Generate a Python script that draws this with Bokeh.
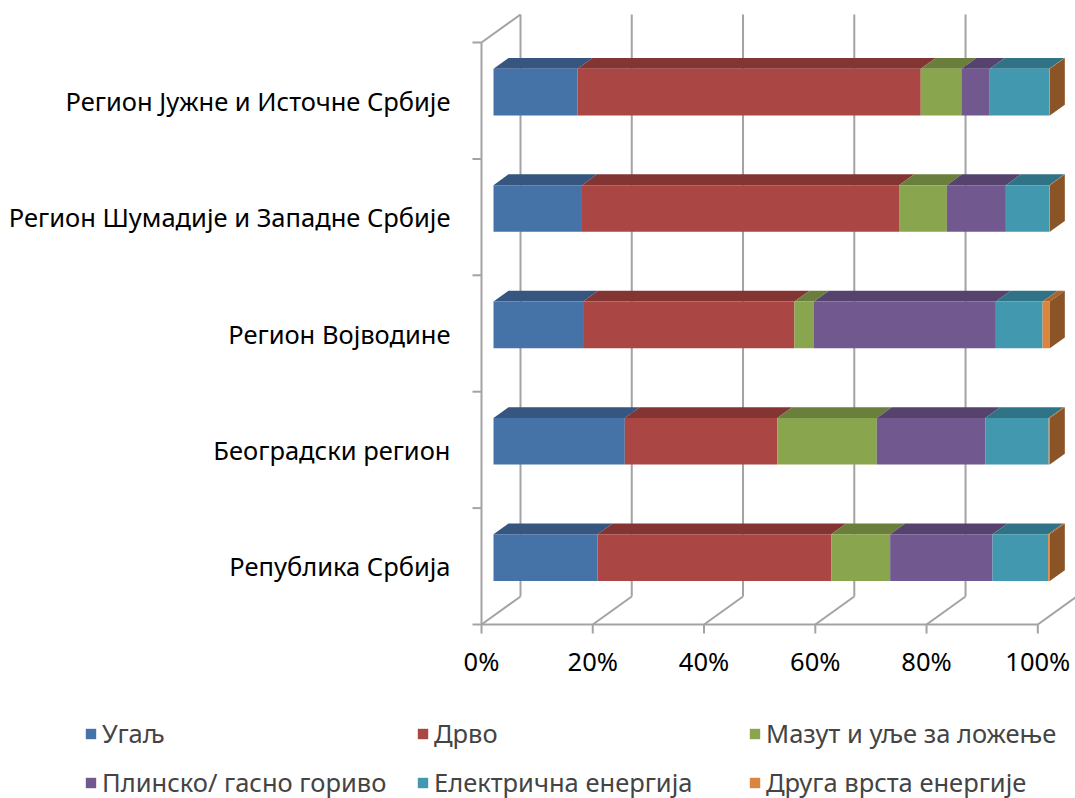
import numpy as np
from bokeh.plotting import figure
from bokeh.models import ColumnDataSource, Range1d, Legend, LegendItem
from bokeh.core.properties import value
from bokeh.embed import file_html
from bokeh.resources import INLINE

# ---------------- data ----------------
categories = ["Република Србија", "Београдски регион", "Регион Војводине",
              "Регион Шумадије и Западне Србије", "Регион Јужне и Источне Србије"]
series_names = ["Угаљ", "Дрво", "Мазут и уље за ложење",
                "Плинско/ гасно гориво", "Електрична енергија", "Друга врста енергије"]
ugalj = [18.7, 23.6, 16.1, 15.9, 15.1]
drvo = [42.0, 27.4, 38.0, 57.0, 61.7]
mazut = [10.6, 17.9, 3.5, 8.6, 7.3]
plin = [18.4, 19.5, 32.7, 10.6, 5.1]
struja = [10.0, 11.4, 8.4, 7.8, 10.7]
druga = [0.3, 0.2, 1.3, 0.1, 0.1]
x_ticks = [0, 20, 40, 60, 80, 100]
x_tick_labels = ["0%", "20%", "40%", "60%", "80%", "100%"]

front_colors = ["#4572A7", "#AA4643", "#89A54E", "#71588F", "#4198AF", "#DB843D"]
top_colors = ["#36557F", "#823533", "#6A7F3B", "#56436D", "#317386", "#A9652E"]
side_color = "#8B5426"
grid_color = "#a3a3a3"
FONT = "Noto Sans"
FONT_SIZE = "25.5px"

# ---------------- geometry (pseudo-3D projection) ----------------
PX_PER_PCT = 5.563      # horizontal pixels per percent on the front plane
PX_PER_BAND = 116.4     # vertical pixels per category band
DX = 39 / PX_PER_PCT    # depth offset in x data units
DY = 28 / PX_PER_BAND   # depth offset in y data units
Z0, Z1 = 0.308, 0.693   # bar depth span
BAR_H = 0.401
W, H = 1075, 798
X0_SCREEN, Y0_SCREEN = 481, 624   # canvas position of data (0, 0)

x_start = -X0_SCREEN / PX_PER_PCT
x_end = (W - X0_SCREEN) / PX_PER_PCT
y_end = Y0_SCREEN / PX_PER_BAND
y_start = -(H - Y0_SCREEN) / PX_PER_BAND

p = figure(width=W, height=H, output_backend="svg", toolbar_location=None,
           x_range=Range1d(x_start, x_end), y_range=Range1d(y_start, y_end),
           x_axis_location=None, y_axis_location=None, min_border=0,
           outline_line_color=None, background_fill_color="white")
p.grid.visible = False

ncat = len(categories)

# back wall grid lines
p.segment(x0=[t + DX for t in x_ticks], y0=[DY] * len(x_ticks),
          x1=[t + DX for t in x_ticks], y1=[ncat + DY] * len(x_ticks),
          line_color=grid_color, line_width=2)
# floor diagonals
p.segment(x0=x_ticks, y0=[0] * len(x_ticks),
          x1=[t + DX for t in x_ticks], y1=[DY] * len(x_ticks),
          line_color=grid_color, line_width=2)
# floor front edge, left wall front edge, left wall top
p.segment(x0=[0, 0, 0], y0=[0, 0, ncat], x1=[100, 0, DX], y1=[0, ncat, ncat + DY],
          line_color=grid_color, line_width=2)
# tick marks
tick_x = 9 / PX_PER_PCT
tick_y = 9 / PX_PER_BAND
p.segment(x0=[0] * (ncat + 1), y0=list(range(ncat + 1)),
          x1=[-tick_x] * (ncat + 1), y1=list(range(ncat + 1)),
          line_color=grid_color, line_width=2)
p.segment(x0=x_ticks, y0=[0] * len(x_ticks), x1=x_ticks, y1=[-tick_y] * len(x_ticks),
          line_color=grid_color, line_width=2)

# ---------------- stacked 3D bars ----------------
series = [ugalj, drvo, mazut, plin, struja, druga]
vals = np.array(series, dtype=float)
vals = vals / vals.sum(axis=0) * 100.0
cum = np.vstack([np.zeros(ncat), np.cumsum(vals, axis=0)])
centers = np.arange(ncat) + 0.5
bot = centers - BAR_H / 2
top = centers + BAR_H / 2

renderers = []
for j, name in enumerate(series_names):
    left = cum[j]
    right = cum[j + 1]
    xs, ys = [], []
    for i in range(ncat):
        xs.append([left[i] + Z0 * DX, right[i] + Z0 * DX, right[i] + Z1 * DX, left[i] + Z1 * DX])
        ys.append([top[i] + Z0 * DY, top[i] + Z0 * DY, top[i] + Z1 * DY, top[i] + Z1 * DY])
    p.patches(xs=xs, ys=ys, fill_color=top_colors[j], line_color=None)
    src = ColumnDataSource(dict(left=left + Z0 * DX, right=right + Z0 * DX,
                                bottom=bot + Z0 * DY, top=top + Z0 * DY))
    r = p.quad(left="left", right="right", bottom="bottom", top="top", source=src,
               fill_color=front_colors[j], line_color=None)
    renderers.append(r)

# right side faces
end = cum[-1]
sxs, sys_ = [], []
for i in range(ncat):
    sxs.append([end[i] + Z0 * DX, end[i] + Z1 * DX, end[i] + Z1 * DX, end[i] + Z0 * DX])
    sys_.append([bot[i] + Z0 * DY, bot[i] + Z1 * DY, top[i] + Z1 * DY, top[i] + Z0 * DY])
p.patches(xs=sxs, ys=sys_, fill_color=side_color, line_color=None)

# ---------------- texts ----------------
p.text(x=[0] * ncat, y=list(centers), text=categories, x_offset=-31,
       text_align="right", text_baseline="middle",
       text_font=value(FONT), text_font_size=FONT_SIZE, text_color="black")
p.text(x=x_ticks, y=[0] * len(x_ticks), text=x_tick_labels, y_offset=36,
       text_align="center", text_baseline="middle",
       text_font=value(FONT), text_font_size=FONT_SIZE, text_color="black")

# legend laid out row by row (3 columns x 2 rows; legend fills column-wise)
order = [0, 3, 1, 4, 2, 5]
legend_items = [LegendItem(label=series_names[k], renderers=[renderers[k]]) for k in order]
legend = Legend(items=legend_items, ncols=3, location=(84, -8.5),
                glyph_width=13, glyph_height=13, label_standoff=5,
                label_width=314, label_height=49, spacing=0, padding=0, margin=0,
                label_text_font=FONT, label_text_font_size=FONT_SIZE,
                border_line_color=None, background_fill_alpha=0)
p.add_layout(legend, "center")

open("out.html", "w").write(file_html(p, INLINE))
